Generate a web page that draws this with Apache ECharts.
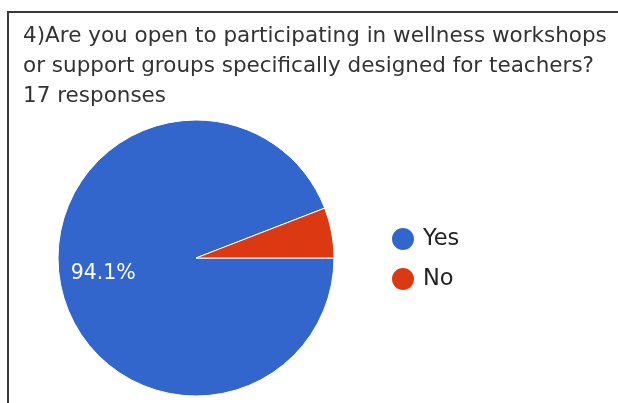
<!DOCTYPE html>
<html>
<head>
<meta charset="utf-8">
<script src="https://cdn.jsdelivr.net/npm/echarts@6/dist/echarts.min.js"></script>
<style>
  html, body { margin: 0; padding: 0; background: #fff; }
  #chart { width: 618px; height: 403px; }
</style>
</head>
<body>
<div id="chart"></div>
<script>
// Survey question and response counts
const questionLines = [
  '4)Are you open to participating in wellness workshops',
  'or support groups specifically designed for teachers?',
  '17 responses'
];
const categories = ['Yes', 'No'];
const responseCounts = [16, 1];
const sliceColors = ['#3366cc', '#dc3912'];

const total = responseCounts.reduce((a, b) => a + b, 0);
const fontFamily = '"DejaVu Sans", sans-serif';

const chart = echarts.init(document.getElementById('chart'), null, { renderer: 'canvas' });

chart.setOption({
  animation: false,
  backgroundColor: '#ffffff',
  title: {
    text: questionLines.join('\n'),
    left: 23,
    top: 21,
    padding: 0,
    textStyle: {
      fontFamily: fontFamily,
      fontSize: 21.5,
      fontWeight: 'normal',
      color: '#333333',
      lineHeight: 30
    }
  },
  legend: {
    orient: 'vertical',
    left: 390,
    top: 226,
    padding: 0,
    icon: 'circle',
    itemWidth: 24,
    itemHeight: 24,
    itemGap: 14,
    data: categories,
    textStyle: {
      fontFamily: fontFamily,
      fontSize: 22.5,
      color: '#222222',
      lineHeight: 24,
      padding: [0, 0, 0, 3]
    }
  },
  graphic: [
    {
      type: 'polyline',
      shape: { points: [[8, 403], [8, 12], [618, 12]] },
      style: { stroke: '#3a3a3a', lineWidth: 2, fill: null },
      silent: true
    }
  ],
  series: [
    {
      type: 'pie',
      center: [196, 258],
      radius: [0, 138],
      startAngle: 0,
      clockwise: true,
      avoidLabelOverlap: false,
      itemStyle: { borderColor: '#ffffff', borderWidth: 1 },
      label: {
        show: true,
        position: 'inside',
        fontFamily: fontFamily,
        fontSize: 20.5,
        color: '#ffffff',
        formatter: p => (p.value / total * 100 >= 10 ? (p.value / total * 100).toFixed(1) + '%' : '')
      },
      labelLayout: p => (p.dataIndex === 0 ? { dx: -22, dy: 2 } : {}),
      labelLine: { show: false },
      emphasis: { disabled: true },
      data: categories.map((name, i) => ({
        name: name,
        value: responseCounts[i],
        itemStyle: { color: sliceColors[i] }
      }))
    }
  ]
});
</script>
</body>
</html>
